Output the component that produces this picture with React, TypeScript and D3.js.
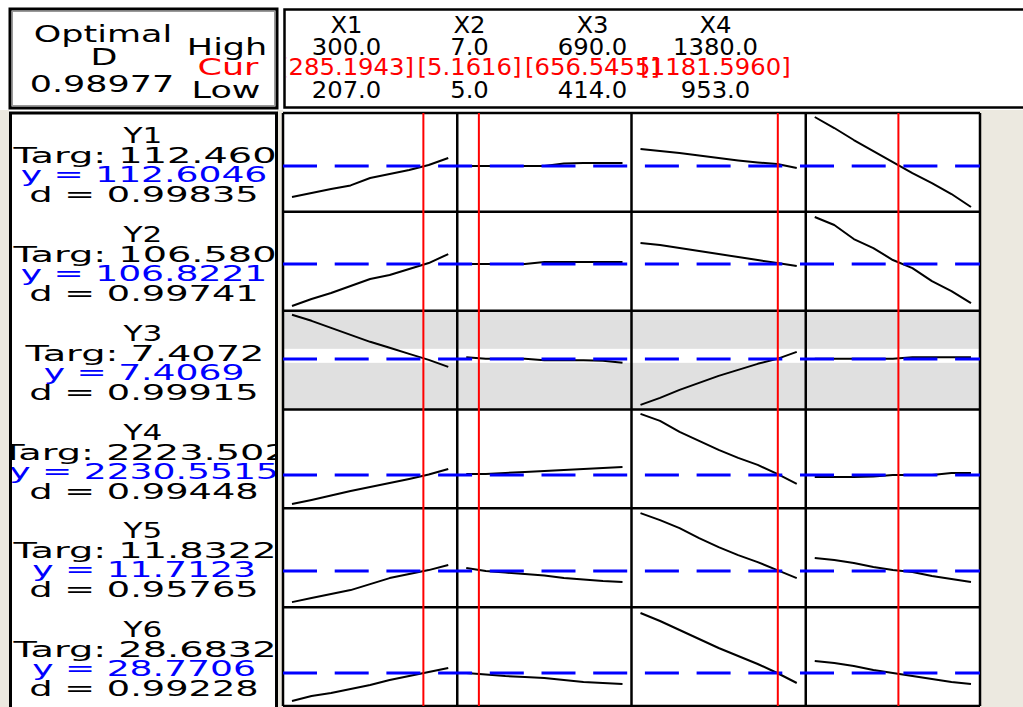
import React from 'react';
import * as d3 from 'd3';

// factor settings
const FACTORS = ['X1', 'X2', 'X3', 'X4'];
const LOW = [207.0, 5.0, 414.0, 953.0];
const HIGH = [300.0, 7.0, 690.0, 1380.0];
const CUR = [285.1943, 5.1616, 656.5455, 1181.596];
const LOW_LABELS = ['207.0', '5.0', '414.0', '953.0'];
const HIGH_LABELS = ['300.0', '7.0', '690.0', '1380.0'];
const CUR_LABELS = ['[285.1943]', '[5.1616]', '[656.5455]', '[1181.5960]'];

// responses
const RESPONSES = ['Y1', 'Y2', 'Y3', 'Y4', 'Y5', 'Y6'];
const TARGETS = ['112.460', '106.580', '7.4072', '2223.502', '11.8322', '28.6832'];
const PREDICTED = [112.6046, 106.8221, 7.4069, 2230.5515, 11.7123, 28.7706];
const PRED_LABELS = ['112.6046', '106.8221', '7.4069', '2230.5515', '11.7123', '28.7706'];
const DESIRABILITY = ['0.99835', '0.99741', '0.99915', '0.99448', '0.95765', '0.99228'];
const OPTIMAL_D = '0.98977';
const Y_DOMAINS: [number, number][] = [
  [91.2, 137.6], [85.0, 131.4], [6.457, 8.313], [2079, 2543], [10.057, 14.697], [25.77, 35.05],
];
const Y3_BAND = [7.33, 7.61];

// response traces, 9 levels from low to high of each factor
const Y1_CURVES = [
  [97.1, 99.1, 101.1, 102.9, 106.6, 108.6, 110.6, 113.1, 116.6],
  [112.6, 112.6, 112.6, 112.6, 112.6, 113.9, 114.1, 114.1, 114.1],
  [121.1, 120.1, 119.1, 117.9, 116.6, 115.4, 114.4, 113.6, 111.6],
  [137.1, 131.6, 125.6, 120.1, 114.6, 109.1, 104.1, 98.6, 92.1],
];
const Y2_CURVES = [
  [85.8, 89.3, 92.3, 95.8, 99.3, 101.3, 104.3, 107.3, 111.8],
  [106.8, 106.8, 106.8, 106.8, 107.8, 107.8, 107.8, 107.8, 107.8],
  [117.3, 116.3, 114.8, 113.3, 111.8, 110.3, 108.8, 107.3, 105.8],
  [130.3, 126.3, 119.3, 114.8, 108.8, 104.8, 98.3, 93.3, 87.3],
];
const Y3_CURVES = [
  [8.29, 8.17, 8.03, 7.89, 7.75, 7.63, 7.51, 7.39, 7.25],
  [7.44, 7.41, 7.41, 7.41, 7.38, 7.38, 7.38, 7.37, 7.33],
  [6.49, 6.63, 6.79, 6.93, 7.07, 7.19, 7.31, 7.41, 7.55],
  [7.41, 7.41, 7.41, 7.41, 7.41, 7.44, 7.44, 7.44, 7.44],
];
const Y4_CURVES = [
  [2086, 2106, 2128, 2151, 2171, 2191, 2211, 2233, 2261],
  [2236, 2236, 2241, 2246, 2251, 2256, 2261, 2266, 2271],
  [2536, 2501, 2446, 2401, 2356, 2316, 2281, 2236, 2186],
  [2221, 2221, 2221, 2223, 2231, 2231, 2231, 2241, 2241],
];
const Y5_CURVES = [
  [10.16, 10.36, 10.56, 10.76, 11.06, 11.36, 11.56, 11.76, 12.01],
  [11.86, 11.71, 11.64, 11.56, 11.49, 11.36, 11.29, 11.21, 11.16],
  [14.61, 14.26, 13.86, 13.36, 12.91, 12.51, 12.16, 11.76, 11.36],
  [12.36, 12.26, 12.11, 11.91, 11.76, 11.66, 11.46, 11.31, 11.16],
];
const Y6_CURVES = [
  [25.97, 26.47, 26.77, 27.17, 27.57, 28.07, 28.47, 28.87, 29.27],
  [28.77, 28.62, 28.47, 28.37, 28.27, 28.07, 27.87, 27.77, 27.67],
  [34.77, 33.97, 33.07, 32.17, 31.27, 30.47, 29.67, 28.77, 27.77],
  [29.97, 29.77, 29.47, 29.07, 28.77, 28.47, 28.17, 27.87, 27.67],
];
const CURVES = [Y1_CURVES, Y2_CURVES, Y3_CURVES, Y4_CURVES, Y5_CURVES, Y6_CURVES];

const W = 1023;
const H = 707;
const PLOT = { left: 283, right: 980, top: 113, bottom: 706 };
const CURVE_PAD = 9;
const ROW_PAD = 3;
const FONT = 'DejaVu Sans, Verdana, sans-serif';
const BEIGE = '#ECE9E0';

// text stretched horizontally like the original
const SText = (p: { x: number; y: number; sx: number; size: number; fill?: string; children: any }) => (
  <text
    transform={`translate(${p.x},${p.y}) scale(${p.sx},1)`}
    textAnchor="middle"
    fontSize={p.size}
    fontFamily={FONT}
    fill={p.fill || '#000'}
  >
    {p.children}
  </text>
);

const App = () => {
  const col = d3.scaleBand<string>().domain(FACTORS).range([PLOT.left, PLOT.right]);
  const row = d3.scaleBand<string>().domain(RESPONSES).range([PLOT.top, PLOT.bottom]);
  const head = d3.scaleBand<string>().domain(FACTORS).range([285, 777]);

  const xScales = FACTORS.map((f, j) =>
    d3.scaleLinear()
      .domain([LOW[j], HIGH[j]])
      .range([col(f)! + CURVE_PAD, col(f)! + col.bandwidth() - CURVE_PAD])
  );
  const yScales = RESPONSES.map((r, i) =>
    d3.scaleLinear()
      .domain(Y_DOMAINS[i])
      .range([row(r)! + row.bandwidth() - ROW_PAD, row(r)! + ROW_PAD])
  );
  const levels = FACTORS.map((f, j) => d3.range(9).map(k => LOW[j] + (k * (HIGH[j] - LOW[j])) / 8));

  const line = d3.line<[number, number]>().x(d => d[0]).y(d => d[1]);

  const y3 = row('Y3')!;

  return (
    <div style={{ position: 'absolute', left: 0, top: 0 }}>
      <svg width={W} height={H} style={{ display: 'block', background: '#fff' }}>
        <defs>
          <clipPath id="leftClip">
            <rect x={12} y={114} width={263} height={593} />
          </clipPath>
          <clipPath id="headClip">
            <rect x={286} y={11} width={740} height={96} />
          </clipPath>
        </defs>

        {/* background strips */}
        <rect x={PLOT.right} y={110} width={W - PLOT.right} height={H - 110} fill={BEIGE} />
        <rect x={277} y={110} width={6} height={H - 110} fill={BEIGE} />
        <rect x={0} y={110} width={9} height={H - 110} fill={BEIGE} />

        {/* top-left box */}
        <rect x={10} y={9} width={267} height={99} fill="#fff" stroke="#000" strokeWidth={3} />
        <rect x={12.5} y={11.5} width={262} height={94} fill="none" stroke="#999" strokeWidth={1} />
        <SText x={103} y={42} sx={1.52} size={23}>Optimal</SText>
        <SText x={104} y={65} sx={1.52} size={23}>D</SText>
        <SText x={102} y={92} sx={1.52} size={23}>{OPTIMAL_D}</SText>
        <SText x={227} y={55} sx={1.52} size={23}>High</SText>
        <SText x={228} y={75} sx={1.52} size={23} fill="#FF0000">Cur</SText>
        <SText x={226} y={98} sx={1.52} size={23}>Low</SText>

        {/* factor header */}
        <rect x={284.5} y={9.5} width={760} height={98} fill="#fff" stroke="#000" strokeWidth={2.5} />
        <g clipPath="url(#headClip)">
          {FACTORS.map((f, j) => {
            const cx = head(f)! + head.bandwidth() / 2;
            return (
              <g key={f}>
                <SText x={cx} y={33} sx={1.08} size={22.5}>{f}</SText>
                <SText x={cx} y={55} sx={1.08} size={22.5}>{HIGH_LABELS[j]}</SText>
                <SText x={cx} y={75} sx={1.08} size={22.5} fill="#FF0000">{CUR_LABELS[j]}</SText>
                <SText x={cx} y={98} sx={1.08} size={22.5}>{LOW_LABELS[j]}</SText>
              </g>
            );
          })}
        </g>

        {/* response panel */}
        <rect x={10.5} y={113} width={266} height={596} fill="#fff" stroke="#000" strokeWidth={3} />
        <g clipPath="url(#leftClip)">
          {RESPONSES.map((r, i) => {
            const top = row(r)!;
            return (
              <g key={r}>
                <SText x={143} y={top + 30} sx={1.42} size={22}>{r}</SText>
                <SText x={145} y={top + 50} sx={1.74} size={22}>{'Targ: ' + TARGETS[i]}</SText>
                <SText x={144} y={top + 69} sx={1.64} size={22} fill="#0000FF">{'y = ' + PRED_LABELS[i]}</SText>
                <SText x={144} y={top + 89} sx={1.67} size={22}>{'d = ' + DESIRABILITY[i]}</SText>
              </g>
            );
          })}
        </g>

        {/* plot cells */}
        <rect x={PLOT.left} y={PLOT.top} width={PLOT.right - PLOT.left} height={PLOT.bottom - PLOT.top} fill="#fff" />
        <rect x={PLOT.left} y={y3} width={PLOT.right - PLOT.left} height={row.bandwidth()} fill="#E0E0E0" />
        <rect
          x={PLOT.left}
          y={yScales[2](Y3_BAND[1])}
          width={PLOT.right - PLOT.left}
          height={yScales[2](Y3_BAND[0]) - yScales[2](Y3_BAND[1])}
          fill="#fff"
        />

        {/* grid */}
        {FACTORS.map(f => (
          <line key={f} x1={col(f)!} x2={col(f)!} y1={PLOT.top} y2={PLOT.bottom} stroke="#000" strokeWidth={2.5} />
        ))}
        <line x1={PLOT.right} x2={PLOT.right} y1={PLOT.top} y2={PLOT.bottom} stroke="#000" strokeWidth={2.5} />
        {RESPONSES.map(r => (
          <line key={r} x1={PLOT.left} x2={PLOT.right} y1={row(r)!} y2={row(r)!} stroke="#000" strokeWidth={2.5} />
        ))}
        <line x1={PLOT.left} x2={PLOT.right} y1={PLOT.bottom} y2={PLOT.bottom} stroke="#000" strokeWidth={2.5} />

        {/* traces */}
        {RESPONSES.map((r, i) =>
          FACTORS.map((f, j) => (
            <path
              key={r + f}
              d={line(levels[j].map((lv, k) => [xScales[j](lv), yScales[i](CURVES[i][j][k])]))!}
              fill="none"
              stroke="#000"
              strokeWidth={2}
              strokeLinejoin="round"
            />
          ))
        )}

        {/* predicted response */}
        {RESPONSES.map((r, i) => (
          <line
            key={r}
            x1={PLOT.left}
            x2={PLOT.right}
            y1={yScales[i](PREDICTED[i])}
            y2={yScales[i](PREDICTED[i])}
            stroke="#0000FF"
            strokeWidth={3}
            strokeDasharray="34,17.7"
          />
        ))}

        {/* current settings */}
        {FACTORS.map((f, j) => (
          <line
            key={f}
            x1={xScales[j](CUR[j])}
            x2={xScales[j](CUR[j])}
            y1={PLOT.top}
            y2={PLOT.bottom}
            stroke="#FF0000"
            strokeWidth={2}
          />
        ))}
      </svg>
    </div>
  );
};

export default App;
